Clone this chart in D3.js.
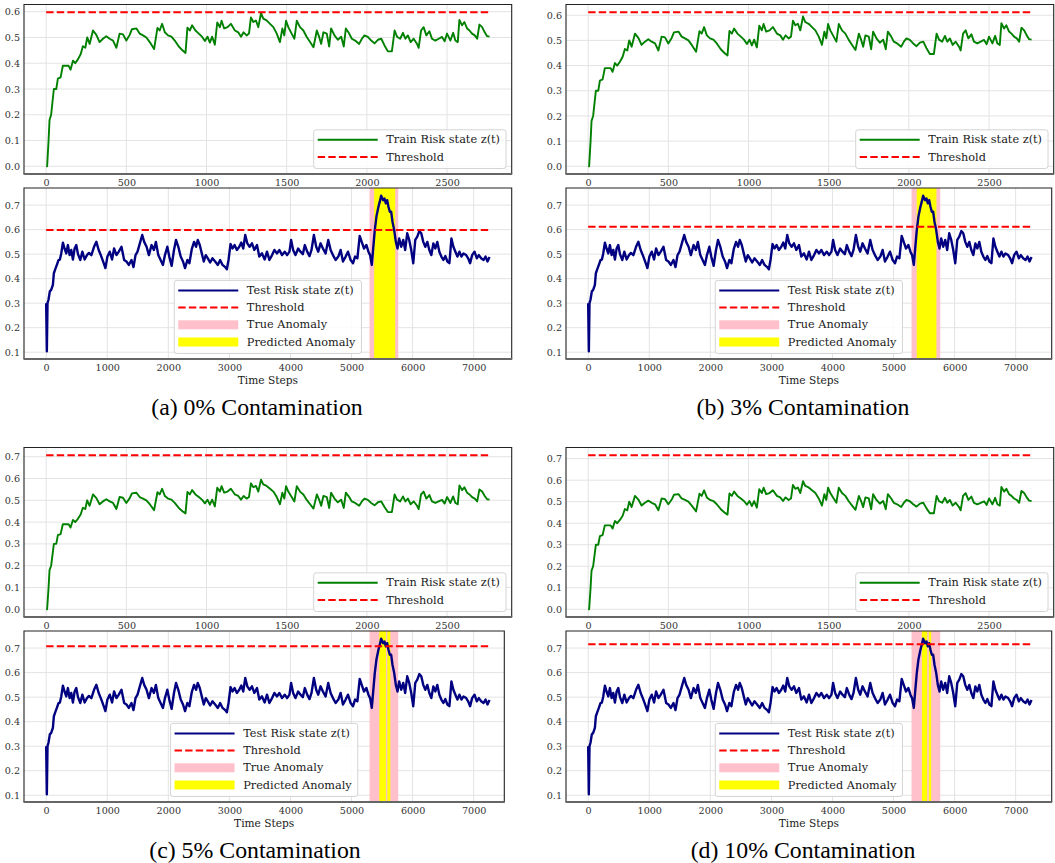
<!DOCTYPE html>
<html><head><meta charset="utf-8">
<script src="https://cdn.jsdelivr.net/npm/d3@7"></script>
<style>body{margin:0;background:#fff}svg{display:block}
.cap{font-family:"Liberation Serif","Times New Roman",Times,serif;}</style>
</head><body>
<svg id="fig" width="1055" height="863"></svg>
<script>
// ---------- data ----------
const trainSteps = [0,6,15,21,31,42,48,63,73,90,104,125,140,152,167,181,198,215,229,244,256,271,292,313,333,354,375,396,417,438,458,479,500,521,535,563,583,604,625,646,673,694,708,723,740,760,781,802,827,850,869,881,896,910,931,952,973,990,1006,1021,1035,1052,1067,1083,1094,1110,1131,1152,1177,1198,1215,1231,1250,1265,1277,1292,1308,1323,1340,1354,1375,1396,1417,1438,1458,1473,1485,1496,1510,1531,1548,1563,1583,1604,1625,1646,1667,1688,1702,1715,1729,1750,1765,1777,1798,1819,1840,1856,1869,1890,1906,1927,1952,1969,1985,2006,2027,2048,2069,2090,2110,2131,2156,2173,2188,2208,2225,2240,2256,2273,2292,2313,2323,2338,2354,2371,2390,2406,2427,2448,2469,2485,2500,2521,2538,2552,2567,2577,2594,2608,2625,2640,2656,2673,2688,2702,2719,2735,2750,2765];
const trainRisk = [0.0,0.0,0.1,0.18,0.2,0.265,0.3,0.3,0.34,0.345,0.39,0.39,0.39,0.375,0.41,0.4,0.415,0.435,0.466,0.46,0.5,0.475,0.527,0.51,0.482,0.495,0.505,0.495,0.488,0.46,0.515,0.512,0.488,0.51,0.532,0.535,0.515,0.508,0.5,0.482,0.455,0.537,0.527,0.553,0.52,0.508,0.503,0.488,0.465,0.45,0.44,0.538,0.527,0.547,0.527,0.515,0.502,0.486,0.503,0.48,0.503,0.472,0.558,0.54,0.565,0.535,0.54,0.553,0.527,0.52,0.503,0.52,0.508,0.515,0.578,0.56,0.566,0.54,0.595,0.573,0.566,0.553,0.54,0.515,0.482,0.535,0.508,0.565,0.54,0.515,0.495,0.565,0.54,0.527,0.502,0.482,0.462,0.527,0.503,0.475,0.52,0.515,0.465,0.535,0.508,0.491,0.503,0.465,0.535,0.515,0.495,0.488,0.475,0.495,0.508,0.502,0.488,0.477,0.491,0.495,0.469,0.446,0.446,0.527,0.503,0.495,0.518,0.495,0.508,0.482,0.495,0.475,0.46,0.527,0.54,0.508,0.524,0.495,0.488,0.495,0.502,0.485,0.515,0.488,0.518,0.488,0.482,0.568,0.547,0.56,0.535,0.527,0.515,0.508,0.495,0.55,0.54,0.52,0.505,0.503];

const testSteps = [0,11,22,38,60,82,110,126,148,175,203,225,247,274,301,329,356,384,411,438,466,493,521,559,592,630,668,701,740,784,822,860,904,942,970,1003,1041,1079,1112,1151,1189,1233,1277,1315,1353,1397,1430,1463,1496,1534,1573,1605,1644,1682,1726,1764,1797,1836,1874,1912,1945,1984,2016,2055,2093,2126,2164,2203,2241,2274,2312,2345,2384,2422,2455,2482,2515,2548,2581,2614,2647,2685,2723,2767,2811,2849,2888,2932,2959,2986,3019,3052,3085,3123,3162,3195,3227,3260,3293,3332,3370,3408,3452,3490,3534,3578,3616,3655,3699,3737,3781,3819,3863,3907,3945,3984,4011,4044,4082,4126,4164,4203,4236,4274,4312,4345,4384,4422,4455,4493,4532,4575,4619,4658,4696,4740,4784,4822,4860,4904,4942,4986,5025,5058,5096,5134,5167,5205,5244,5277,5304,5332,5353,5381,5408,5441,5463,5485,5518,5540,5562,5584,5605,5627,5649,5671,5699,5726,5753,5781,5814,5847,5879,5912,5945,5978,6011,6044,6077,6110,6142,6175,6208,6241,6274,6307,6340,6373,6405,6438,6471,6504,6537,6570,6603,6636,6668,6701,6734,6767,6800,6833,6877,6910,6942,6975,7014,7052,7085,7123,7162,7195,7227,7260];
const testRisk = [0.3,0.104,0.3,0.314,0.348,0.354,0.375,0.422,0.438,0.456,0.476,0.478,0.503,0.547,0.523,0.503,0.537,0.496,0.517,0.478,0.523,0.537,0.5,0.476,0.51,0.478,0.496,0.505,0.496,0.53,0.55,0.517,0.49,0.463,0.443,0.49,0.51,0.478,0.523,0.496,0.51,0.53,0.476,0.47,0.456,0.476,0.447,0.496,0.51,0.544,0.578,0.55,0.53,0.496,0.537,0.517,0.55,0.496,0.476,0.456,0.496,0.53,0.49,0.452,0.517,0.558,0.53,0.49,0.47,0.443,0.476,0.463,0.52,0.55,0.53,0.558,0.537,0.503,0.47,0.496,0.483,0.466,0.483,0.47,0.456,0.476,0.456,0.447,0.438,0.476,0.541,0.523,0.537,0.517,0.53,0.547,0.523,0.578,0.544,0.53,0.544,0.517,0.537,0.49,0.503,0.478,0.51,0.476,0.496,0.517,0.503,0.517,0.496,0.51,0.496,0.51,0.558,0.517,0.496,0.523,0.51,0.5,0.537,0.51,0.492,0.517,0.578,0.53,0.51,0.544,0.523,0.503,0.558,0.517,0.496,0.476,0.49,0.517,0.47,0.49,0.51,0.476,0.463,0.49,0.483,0.574,0.55,0.523,0.537,0.51,0.496,0.456,0.517,0.598,0.653,0.693,0.714,0.738,0.72,0.727,0.707,0.72,0.693,0.673,0.673,0.632,0.598,0.55,0.523,0.564,0.53,0.558,0.517,0.585,0.558,0.517,0.463,0.558,0.571,0.594,0.585,0.55,0.53,0.55,0.517,0.496,0.544,0.523,0.55,0.51,0.49,0.476,0.492,0.47,0.463,0.564,0.53,0.51,0.49,0.51,0.49,0.503,0.496,0.483,0.463,0.496,0.51,0.483,0.496,0.483,0.476,0.49,0.47,0.488];

const thresholds = [0.598, 0.612, 0.707, 0.716];
const captions = ["(a) 0% Contamination", "(b) 3% Contamination", "(c) 5% Contamination", "(d) 10% Contamination"];
const trueAnomaly = [[5295, 5765]];
const predictedAnomaly = [
  [[5371, 5715]],
  [[5380, 5702]],
  [[5455, 5564], [5586, 5635]],
  [[5465, 5551], [5579, 5617]]
];
const trainXTicks = [0, 500, 1000, 1500, 2000, 2500];
const testXTicks = [0, 1000, 2000, 3000, 4000, 5000, 6000, 7000];
const yTicks = [0.0, 0.1, 0.2, 0.3, 0.4, 0.5, 0.6, 0.7];
const trainLegend = ["Train Risk state z(t)", "Threshold"];
const testLegend = ["Test Risk state z(t)", "Threshold", "True Anomaly", "Predicted Anomaly"];
const xLabel = "Time Steps";

// ---------- styling / layout ----------
const C = {green:"#008000", navy:"#000080", red:"#ff0000", pink:"#ffc0cb", yellow:"#ffff00",
  grid:"#e3e3e3", tick:"#333", spine:"#222", spineB:"#666"};
const TICKFONT = "DejaVu Serif", TICKSIZE = 9.6, LEGSIZE = 11.3;
const layout = [
  {ox:0,   oy:0,   testRight:511.7},
  {ox:542, oy:0,   testRight:1051.7},
  {ox:0,   oy:443, testRight:504.3},
  {ox:542, oy:443, testRight:1051.7}
];
const capX = [257, 803, 255, 803];

const svg = d3.select("#fig");
svg.append("rect").attr("width",1055).attr("height",863).attr("fill","#fff");

function pad(ext){ const m=(ext[1]-ext[0])*0.05; return [ext[0]-m, ext[1]+m]; }

function drawGrid(g, x, y, xt, yt, L, R, T, B){
  const gg = g.append("g");
  xt.filter(v=>x(v)>=L && x(v)<=R).forEach(v=>{
    gg.append("line").attr("x1",x(v)).attr("x2",x(v)).attr("y1",T).attr("y2",B)
      .attr("stroke",C.grid).attr("stroke-width",1);
  });
  yt.filter(v=>y(v)>=T && y(v)<=B).forEach(v=>{
    gg.append("line").attr("x1",L).attr("x2",R).attr("y1",y(v)).attr("y2",y(v))
      .attr("stroke",C.grid).attr("stroke-width",1);
  });
}
function drawSpines(g, L, R, T, B){
  g.append("path").attr("d",`M${L},${B}V${T}H${R}V${B}`).attr("fill","none")
    .attr("stroke",C.spine).attr("stroke-width",1.1);
  g.append("line").attr("x1",L-0.5).attr("x2",R+0.5).attr("y1",B).attr("y2",B)
    .attr("stroke",C.spineB).attr("stroke-width",2);
}
function drawAxes(g, x, y, xt, yt, L, R, T, B){
  const yd = y.domain();
  const ax = g.append("g").attr("transform",`translate(0,${B})`)
    .call(d3.axisBottom(x).tickValues(xt).tickSize(0).tickPadding(5).tickFormat(d3.format("d")));
  const ay = g.append("g").attr("transform",`translate(${L},0)`)
    .call(d3.axisLeft(y).tickValues(yt.filter(v=>v>=yd[0]&&v<=yd[1])).tickSize(0).tickPadding(4).tickFormat(d3.format(".1f")));
  [ax, ay].forEach(a=>{
    a.select(".domain").remove();
    a.selectAll("text").attr("font-family",TICKFONT).attr("font-size",TICKSIZE).attr("fill",C.tick);
  });
}
function legend(g, items, anchor, L, R, B){
  const lg = g.append("g");
  const box = lg.append("rect").attr("fill","#fff").attr("fill-opacity",0.85)
    .attr("stroke","#d4d4d4").attr("stroke-width",1).attr("rx",2.5);
  const rowH = 17.2, handle = 60;
  const texts = items.map((it,i)=> lg.append("text").text(it.label)
    .attr("font-family",TICKFONT).attr("font-size",LEGSIZE).attr("fill","#1a1a1a")
    .attr("dominant-baseline","central"));
  const tw = d3.max(texts, t=>t.node().getComputedTextLength());
  const w = 4 + handle + 8.6 + tw + 6;
  const h = 10 + (items.length-1)*rowH + 11.5;
  const x0 = anchor === "right" ? R - 5.7 - w : (L+R)/2 - w/2;
  const y0 = B - 5.5 - h;
  box.attr("x",x0).attr("y",y0).attr("width",w).attr("height",h);
  items.forEach((it,i)=>{
    const cy = y0 + 10 + i*rowH, hx = x0 + 4;
    if (it.type === "line") {
      lg.append("line").attr("x1",hx).attr("x2",hx+handle).attr("y1",cy).attr("y2",cy)
        .attr("stroke",it.color).attr("stroke-width",2).attr("stroke-dasharray",it.dash||null);
    } else {
      lg.append("rect").attr("x",hx).attr("y",cy-4.5).attr("width",handle).attr("height",9).attr("fill",it.color);
    }
    texts[i].attr("x", hx+handle+8.6).attr("y", cy);
  });
}

layout.forEach((P, i)=>{
  const g = svg.append("g");
  const thr = thresholds[i];
  const L = 24 + P.ox, R = 511.7 + P.ox;
  // ----- train -----
  const T1 = 4.5 + P.oy, B1 = 174 + P.oy;
  const xTr = d3.scaleLinear().domain(pad(d3.extent(trainSteps))).range([L, R]);
  const yTr = d3.scaleLinear().domain(pad([d3.min(trainRisk), Math.max(d3.max(trainRisk), thr)])).range([B1, T1]);
  drawGrid(g, xTr, yTr, trainXTicks, yTicks, L, R, T1, B1);
  const trainPts = trainSteps.map((s,k)=>[s, trainRisk[k]]);
  g.append("path").datum(trainPts).attr("fill","none").attr("stroke",C.green).attr("stroke-width",1.9)
    .attr("stroke-linejoin","round").attr("d", d3.line().x(d=>xTr(d[0])).y(d=>yTr(d[1])));
  const trExt = d3.extent(trainSteps);
  g.append("line").attr("x1",xTr(trExt[0])).attr("x2",xTr(trExt[1])).attr("y1",yTr(thr)).attr("y2",yTr(thr))
    .attr("stroke",C.red).attr("stroke-width",2).attr("stroke-dasharray","7.4,3.2");
  drawSpines(g, L, R, T1, B1);
  drawAxes(g, xTr, yTr, trainXTicks, yTicks, L, R, T1, B1);
  legend(g, [{type:"line",color:C.green,label:trainLegend[0]},{type:"line",color:C.red,dash:"7.4,3.2",label:trainLegend[1]}], "right", L, R, B1);

  // ----- test -----
  const T2 = 188 + P.oy, B2 = 359 + P.oy, R2 = P.testRight;
  const xTe = d3.scaleLinear().domain(pad(d3.extent(testSteps))).range([L, R]);
  const yTe = d3.scaleLinear().domain(pad([d3.min(testRisk), Math.max(d3.max(testRisk), thr)])).range([B2, T2]);
  const clipId = "clip"+i;
  svg.append("defs").append("clipPath").attr("id",clipId).append("rect")
    .attr("x",L).attr("y",T2).attr("width",R2-L).attr("height",B2-T2);
  const gt = g.append("g");
  const gc = gt.append("g").attr("clip-path",`url(#${clipId})`);
  drawGrid(gc, xTe, yTe, testXTicks, yTicks, L, R2, T2, B2);
  trueAnomaly.forEach(a=> gc.append("rect").attr("x",xTe(a[0])).attr("width",xTe(a[1])-xTe(a[0]))
    .attr("y",T2).attr("height",B2-T2).attr("fill",C.pink));
  predictedAnomaly[i].forEach(a=> gc.append("rect").attr("x",xTe(a[0])).attr("width",xTe(a[1])-xTe(a[0]))
    .attr("y",T2).attr("height",B2-T2).attr("fill",C.yellow));
  const testPts = testSteps.map((s,k)=>[s, testRisk[k]]);
  gc.append("path").datum(testPts).attr("fill","none").attr("stroke",C.navy).attr("stroke-width",2.4)
    .attr("stroke-linejoin","round").attr("d", d3.line().x(d=>xTe(d[0])).y(d=>yTe(d[1])));
  const teExt = d3.extent(testSteps);
  gc.append("line").attr("x1",xTe(teExt[0])).attr("x2",xTe(teExt[1])).attr("y1",yTe(thr)).attr("y2",yTe(thr))
    .attr("stroke",C.red).attr("stroke-width",2).attr("stroke-dasharray","7.4,3.2");
  drawSpines(gt, L, R2, T2, B2);
  drawAxes(gt, xTe, yTe, testXTicks, yTicks, L, R2, T2, B2);
  legend(gt, [
    {type:"line",color:C.navy,label:testLegend[0]},
    {type:"line",color:C.red,dash:"7.4,3.2",label:testLegend[1]},
    {type:"rect",color:C.pink,label:testLegend[2]},
    {type:"rect",color:C.yellow,label:testLegend[3]}], "center", L, R2, B2);
  g.append("text").text(xLabel).attr("x",(L+R2)/2).attr("y",B2+24.5).attr("text-anchor","middle")
    .attr("font-family",TICKFONT).attr("font-size",10.6).attr("fill","#1a1a1a");
  // caption
  g.append("text").attr("class","cap").text(captions[i]).attr("x",capX[i]).attr("y",415+P.oy).attr("text-anchor","middle")
    .attr("font-size",23.8).attr("fill","#000");
});
</script>
</body></html>
